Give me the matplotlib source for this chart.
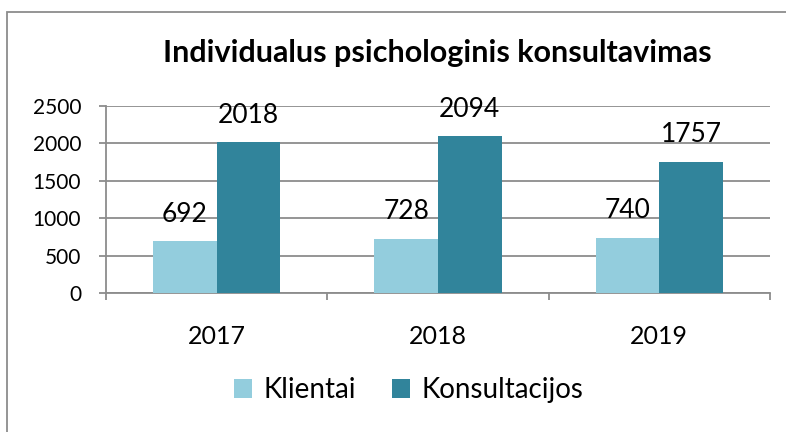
import numpy as np
import matplotlib.pyplot as plt
from matplotlib import rcParams
from matplotlib.patches import Rectangle
from matplotlib.ticker import FixedLocator

rcParams['font.family'] = ['Lato', 'DejaVu Sans']

# data
years = ['2017', '2018', '2019']
klientai = [692, 728, 740]
konsultacijos = [2018, 2094, 1757]
series_names = ['Klientai', 'Konsultacijos']

c_light = '#93CDDD'
c_dark = '#31849B'
grid_c = '#8C8C8C'

fig = plt.figure(figsize=(7.86, 4.32), dpi=100)
ax = fig.add_axes([0.1349, 0.3218, 0.8447, 0.4328])

x = np.arange(len(years))
w = 0.287
b1 = ax.bar(x - w / 2, klientai, w, color=c_light, label=series_names[0], zorder=3)
b2 = ax.bar(x + w / 2, konsultacijos, w, color=c_dark, label=series_names[1], zorder=3)

# data labels
for bars, vals in [(b1, klientai), (b2, konsultacijos)]:
    for r, v in zip(bars, vals):
        ax.annotate(str(v), (r.get_x() + r.get_width() / 2, v),
                    xytext=(0, 14), textcoords='offset points',
                    ha='center', va='baseline', fontsize=19, color='black',
                    zorder=4)

ax.set_xlim(-0.5, 2.5)
ax.set_ylim(0, 2500)
ax.set_yticks(np.arange(0, 2501, 500))
ax.yaxis.grid(True, color=grid_c, linewidth=1.3, zorder=0)
ax.set_axisbelow(True)

ax.set_xticks(x)
ax.set_xticklabels(years, fontsize=18)
ax.tick_params(axis='x', which='major', length=0, pad=23)
ax.xaxis.set_minor_locator(FixedLocator([-0.5, 0.5, 1.5, 2.5]))
ax.tick_params(axis='x', which='minor', length=5, width=1.3, color=grid_c)
ax.tick_params(axis='y', length=5, width=1.3, color=grid_c, pad=13, labelsize=15)

for s in ['top', 'right']:
    ax.spines[s].set_visible(False)
for s in ['left', 'bottom']:
    ax.spines[s].set_color(grid_c)
    ax.spines[s].set_linewidth(1.3)

fig.text(0.557, 0.877, 'Individualus psichologinis konsultavimas',
         ha='center', va='center', fontsize=22, fontweight='bold')

fig.legend(handles=[b1, b2], loc='center', bbox_to_anchor=(0.52, 0.097),
           ncol=2, frameon=False, fontsize=20, handlelength=0.65,
           handleheight=0.65, handletextpad=0.4, columnspacing=1.3)

# chart border
fig.patches.append(Rectangle((0.009, -0.05), 1.1, 0.022 + 0.95 + 0.05,
                             transform=fig.transFigure, fill=False,
                             edgecolor='#8C8C8C', linewidth=1.3))

fig.savefig('out.png', dpi=100)
